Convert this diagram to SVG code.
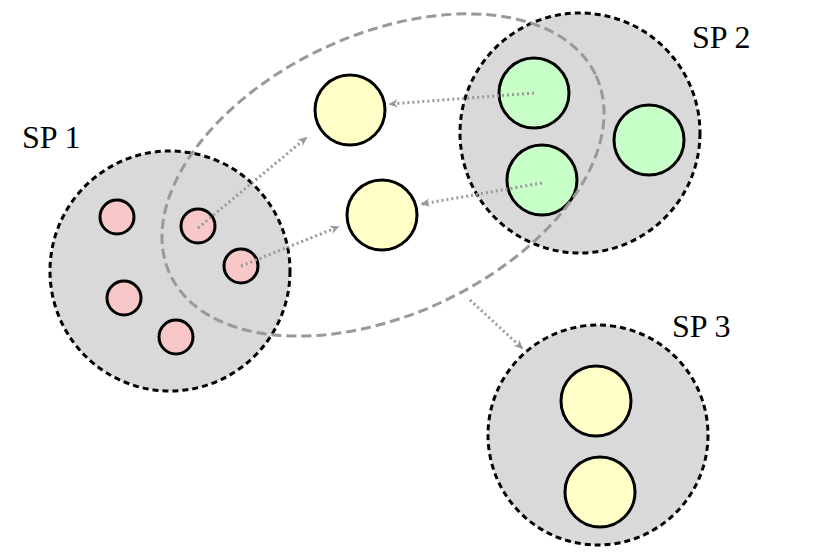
<svg xmlns="http://www.w3.org/2000/svg" width="831" height="552" viewBox="0 0 831 552">
<defs>
<style>
.sp{fill:#d9d9d9;stroke:#000;stroke-width:3;stroke-dasharray:6 4}
.y{fill:#ffffc8;stroke:#000;stroke-width:3}
.g{fill:#c8ffc8;stroke:#000;stroke-width:3}
.p{fill:#f8c8c8;stroke:#000;stroke-width:3}
.a{stroke:#999;stroke-width:3;stroke-dasharray:2 3;fill:none;marker-end:url(#m)}
text{font-family:"Liberation Serif","DejaVu Serif",serif;font-size:32px;fill:#000}
</style>
<marker id="m" viewBox="0 0 10 10" refX="9" refY="5" markerWidth="6" markerHeight="6" orient="auto" markerUnits="userSpaceOnUse" style="overflow:visible">
<path d="M-4,-2 L12,5 L-4,12 L1,5 Z" fill="#999"/>
</marker>
</defs>
<g id="sp1"><circle class="sp" cx="170" cy="271" r="120"/>
<circle class="p" cx="117" cy="217" r="17"/><circle class="p" cx="198" cy="226" r="17"/><circle class="p" cx="241" cy="266" r="17"/><circle class="p" cx="124" cy="298" r="17"/><circle class="p" cx="176" cy="337" r="17"/>
<text x="22" y="148">SP 1</text></g>
<g id="sp2"><circle class="sp" cx="580" cy="133" r="120"/>
<circle class="g" cx="534" cy="93" r="35"/><circle class="g" cx="649" cy="140" r="35"/><circle class="g" cx="542" cy="180" r="35"/>
<text x="692" y="48">SP 2</text></g>
<g id="sp3"><circle class="sp" cx="598" cy="435" r="110"/>
<circle class="y" cx="596" cy="401" r="35"/><circle class="y" cx="600" cy="492" r="35"/>
<text x="672" y="337">SP 3</text></g>
<g id="y1"><circle class="y" cx="350" cy="110" r="35"/></g>
<g id="y2"><circle class="y" cx="382" cy="215" r="35"/></g>
<g id="connectors">
<ellipse cx="383" cy="175" rx="235" ry="140" transform="rotate(-25 383 175)" fill="none" stroke="#999" stroke-width="3" stroke-dasharray="10 5"/>
<path class="a" d="M198,228 L306,138"/>
<path class="a" d="M241,266 L338,227"/>
<path class="a" d="M534,93 L390,104"/>
<path class="a" d="M542,183 L422,204"/>
<path class="a" d="M470,300 L522,348"/>
</g>
</svg>
